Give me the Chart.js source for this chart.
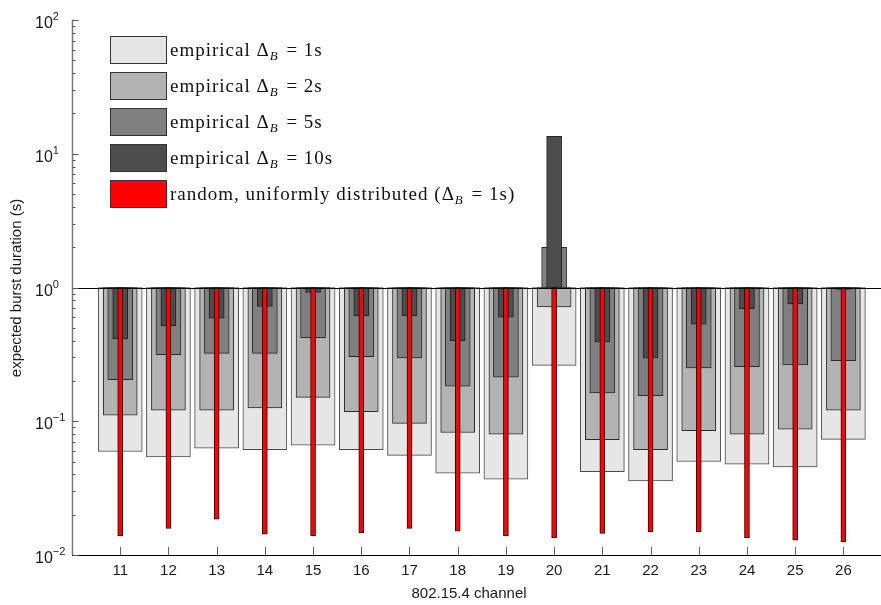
<!DOCTYPE html>
<html>
<head>
<meta charset="utf-8">
<title>Expected burst duration per channel</title>
<script src="https://cdn.jsdelivr.net/npm/chart.js@4.4.0/dist/chart.umd.min.js"></script>
<style>
  html, body { margin: 0; padding: 0; background: #fff; }
</style>
</head>
<body>
<canvas id="burstChart" width="881" height="605"></canvas>
<script>
// 802.15.4 channels
const channels = [11, 12, 13, 14, 15, 16, 17, 18, 19, 20, 21, 22, 23, 24, 25, 26];

// expected burst duration (s)
const emp1s  = [0.0594, 0.0542, 0.063, 0.0612, 0.0663, 0.0612, 0.0555, 0.0409, 0.0369, 0.262, 0.0419, 0.0358, 0.050, 0.0478, 0.0456, 0.0731];
const emp2s  = [0.111, 0.121, 0.121, 0.126, 0.151, 0.118, 0.0963, 0.0824, 0.0802, 0.717, 0.0727, 0.0612, 0.0849, 0.0802, 0.0874, 0.121];
const emp5s  = [0.205, 0.315, 0.322, 0.322, 0.422, 0.304, 0.297, 0.183, 0.214, 2.0, 0.163, 0.155, 0.250, 0.256, 0.264, 0.284];
const emp10s = [0.413, 0.519, 0.589, 0.721, 0.918, 0.617, 0.617, 0.401, 0.599, 13.5, 0.392, 0.297, 0.531, 0.696, 0.755, 0.966];
const randomUniform = [0.0139, 0.0158, 0.0185, 0.0143, 0.0139, 0.0146, 0.0158, 0.0151, 0.0139, 0.0135, 0.0145, 0.0149, 0.0149, 0.0135, 0.0129, 0.0126];

const seriesLabels = [
  'empirical Δ_B = 1s',
  'empirical Δ_B = 2s',
  'empirical Δ_B = 5s',
  'empirical Δ_B = 10s',
  'random, uniformly distributed (Δ_B = 1s)'
];

// log axis decades, label exponents
const yTickValues = [0.01, 0.1, 1, 10, 100];
const yTickExponents = ['−2', '−1', '0', '1', '2'];

const allSeries = [emp1s, emp2s, emp5s, emp10s, randomUniform];
const fills = ['#e6e6e6', '#b3b3b3', '#808080', '#4d4d4d', '#ff0000'];
const borders = ['#4a4a4a', '#2a2a2a', '#2a2a2a', '#222', '#111'];
const thickness = [44, 34, 25, 15, 5];

const sansFont = '"Liberation Sans", Arial, sans-serif';
const serifFont = '"Liberation Serif", "Times New Roman", serif';

// draws a label with "_X" as italic subscript
function drawMathLabel(ctx, text, x, y, size) {
  const parts = text.split(/_(\w)/);
  let cx = x;
  ctx.textAlign = 'left';
  ctx.textBaseline = 'alphabetic';
  parts.forEach((p, i) => {
    if (i % 2 === 1) {
      ctx.font = 'italic ' + Math.round(size * 0.7) + 'px ' + serifFont;
      ctx.fillText(p, cx, y + 4);
      cx += ctx.measureText(p).width + 2;
    } else {
      ctx.font = size + 'px ' + serifFont;
      ctx.fillText(p, cx, y);
      cx += ctx.measureText(p).width;
    }
  });
}

const decorPlugin = {
  id: 'decor',
  afterDatasetsDraw(chart) {
    const { ctx, chartArea: area, scales: { x, y } } = chart;
    ctx.save();

    // reference line at 1 s
    const y1 = Math.round(y.getPixelForValue(1)) + 0.5;
    ctx.strokeStyle = '#000';
    ctx.lineWidth = 1;
    ctx.beginPath();
    ctx.moveTo(area.left, y1);
    ctx.lineTo(area.right, y1);
    ctx.stroke();

    // bottom axis + channel ticks
    const yb = Math.round(area.bottom) + 0.5;
    ctx.beginPath();
    ctx.moveTo(area.left, yb);
    ctx.lineTo(area.right, yb);
    ctx.stroke();
    ctx.strokeStyle = '#666';
    channels.forEach(c => {
      const px = Math.round(x.getPixelForValue(c)) + 0.5;
      ctx.beginPath();
      ctx.moveTo(px, area.bottom);
      ctx.lineTo(px, area.bottom - 8);
      ctx.stroke();
    });

    // left axis with log ticks
    const xl = Math.round(area.left) + 0.5;
    ctx.strokeStyle = '#7a7a7a';
    ctx.lineWidth = 1.5;
    ctx.beginPath();
    ctx.moveTo(xl, area.top);
    ctx.lineTo(xl, area.bottom);
    ctx.stroke();
    ctx.lineWidth = 1;
    ctx.strokeStyle = '#555';
    yTickValues.forEach((v, i) => {
      const py = Math.round(y.getPixelForValue(v)) + 0.5;
      ctx.beginPath();
      ctx.moveTo(xl, py);
      ctx.lineTo(xl + 6, py);
      ctx.stroke();
      if (i < yTickValues.length - 1) {
        for (let m = 2; m <= 9; m++) {
          const pm = Math.round(y.getPixelForValue(v * m)) + 0.5;
          ctx.beginPath();
          ctx.moveTo(xl, pm);
          ctx.lineTo(xl + 3, pm);
          ctx.stroke();
        }
      }
    });

    // y tick labels 10^n
    ctx.fillStyle = '#1a1a1a';
    ctx.textAlign = 'left';
    ctx.textBaseline = 'alphabetic';
    yTickValues.forEach((v, i) => {
      const py = y.getPixelForValue(v);
      ctx.font = '16px ' + sansFont;
      ctx.fillText('10', 35, py + 8);
      const w = ctx.measureText('10').width;
      ctx.font = '11px ' + sansFont;
      ctx.fillText(yTickExponents[i], 35 + w, py);
    });

    // axis titles
    ctx.font = '15px ' + sansFont;
    ctx.textAlign = 'center';
    ctx.textBaseline = 'middle';
    ctx.fillText('802.15.4 channel', 469, 594);
    ctx.translate(17, 288);
    ctx.rotate(-Math.PI / 2);
    ctx.fillText('expected burst duration (s)', 0, 0);
    ctx.restore();

    // legend
    ctx.save();
    chart.data.datasets.forEach((ds, i) => {
      const top = 36 + i * 36;
      ctx.fillStyle = ds.backgroundColor;
      ctx.fillRect(110, top, 56, 27);
      ctx.strokeStyle = '#333';
      ctx.lineWidth = 1;
      ctx.strokeRect(110.5, top + 0.5, 56, 27);
      ctx.fillStyle = '#111';
      ctx.letterSpacing = '1px';
      drawMathLabel(ctx, ds.label, 170, top + 20, 19);
    });
    ctx.restore();
  }
};

new Chart(document.getElementById('burstChart'), {
  type: 'bar',
  data: {
    datasets: allSeries.map((vals, i) => ({
      label: seriesLabels[i],
      data: channels.map((c, j) => ({ x: c, y: vals[j] })),
      backgroundColor: fills[i],
      borderColor: borders[i],
      borderWidth: 1,
      borderSkipped: false,
      barThickness: thickness[i],
      base: 1,
      grouped: false,
      order: allSeries.length - i
    }))
  },
  options: {
    responsive: false,
    animation: false,
    devicePixelRatio: 1,
    layout: { padding: { top: 20, right: 0, bottom: 0, left: 0 } },
    plugins: { legend: { display: false }, tooltip: { enabled: false } },
    scales: {
      x: {
        type: 'linear',
        min: 10,
        max: 26.78,
        offset: false,
        grid: { display: false },
        border: { display: false },
        ticks: {
          stepSize: 1,
          includeBounds: false,
          autoSkip: false,
          maxRotation: 0,
          padding: -1,
          color: '#1a1a1a',
          font: { family: sansFont, size: 15 },
          callback: v => (Number.isInteger(v) && v >= 11 && v <= 26) ? String(v) : ''
        },
        afterFit: s => { s.height = 50; }
      },
      y: {
        type: 'logarithmic',
        min: 0.01,
        max: 100,
        grid: { display: false },
        border: { display: false },
        ticks: { display: false },
        afterFit: s => { s.width = 72; }
      }
    }
  },
  plugins: [decorPlugin]
});
</script>
</body>
</html>
